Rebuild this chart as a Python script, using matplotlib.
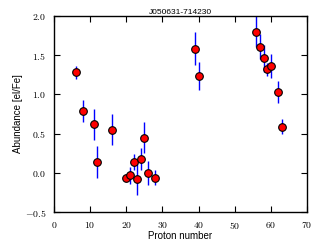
import matplotlib
matplotlib.use('Agg')
import matplotlib.pyplot as plt
from matplotlib.ticker import FuncFormatter

# Element abundances for J050631-714230
proton = [6, 8, 11, 12, 16, 20, 21, 22, 23, 24, 25, 26, 28,
          39, 40, 56, 57, 58, 59, 60, 62, 63]
abund = [1.28, 0.79, 0.62, 0.14, 0.55, -0.06, -0.03, 0.14, -0.08, 0.17, 0.45, 0.00, -0.06,
         1.58, 1.23, 1.80, 1.61, 1.46, 1.32, 1.36, 1.03, 0.59]
err = [0.08, 0.14, 0.20, 0.20, 0.20, 0.05, 0.11, 0.10, 0.20, 0.14, 0.20, 0.15, 0.10,
       0.21, 0.18, 0.20, 0.16, 0.17, 0.08, 0.15, 0.14, 0.10]

plt.rcParams['mathtext.fontset'] = 'cm'
plt.rcParams['font.family'] = ['Liberation Sans', 'DejaVu Sans']

fig = plt.figure(figsize=(3.27, 2.45), dpi=100)
ax = fig.add_axes([54 / 327, 1 - 212 / 245, 253 / 327, 196 / 245])

ax.errorbar(proton, abund, yerr=err, fmt='none', ecolor='blue', elinewidth=1.0, capsize=0)
ax.plot(proton, abund, 'o', color='red', markeredgecolor='black', markersize=5.5,
        markeredgewidth=0.8, linestyle='none')

ax.set_xlim(0, 70)
ax.set_ylim(-0.5, 2.0)
ax.set_xticks(range(0, 71, 10))
ax.set_yticks([-0.5, 0.0, 0.5, 1.0, 1.5, 2.0])
ax.xaxis.set_major_formatter(FuncFormatter(lambda v, p: r'$%d$' % v))
ax.yaxis.set_major_formatter(FuncFormatter(lambda v, p: r'$%.1f$' % v))
ax.tick_params(direction='in', top=True, right=True, length=4, width=0.8, labelsize=7, pad=5.5)
for s in ax.spines.values():
    s.set_linewidth(1.0)

ax.set_xlabel('Proton number', fontsize=7, labelpad=0)
ax.set_ylabel('Abundance [el/Fe]', fontsize=7, labelpad=1.5)
ax.set_title('J050631-714230', fontsize=6, pad=1.5)

fig.savefig('out.png', dpi=100)
